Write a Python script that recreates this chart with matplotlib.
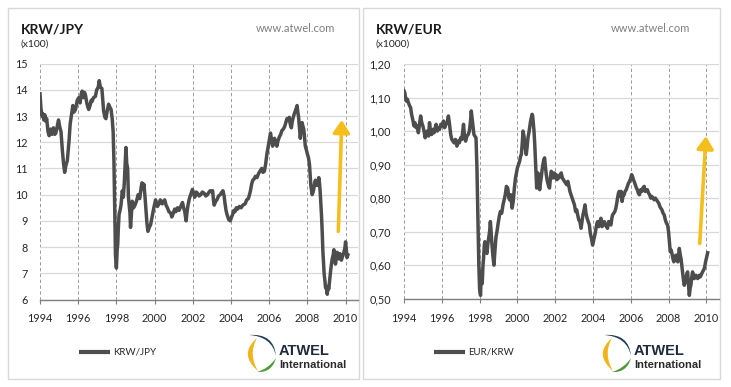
#!/usr/bin/env python3
# KRW/JPY and KRW/EUR 1994-2010, two Excel-style panels side by side.

import matplotlib.pyplot as plt
from matplotlib.patches import Rectangle, FancyArrowPatch, PathPatch
from matplotlib.path import Path

plt.rcParams["font.family"] = ["Lato", "DejaVu Sans"]

# ---- data ----
jpy_t = [1994.00, 1994.05, 1994.10, 1994.14, 1994.20, 1994.25, 1994.30, 1994.35, 1994.42, 1994.48,
         1994.55, 1994.62, 1994.70, 1994.77, 1994.83, 1994.90, 1994.97, 1995.03, 1995.10, 1995.17,
         1995.23, 1995.29, 1995.35, 1995.43, 1995.48, 1995.52, 1995.58, 1995.66, 1995.72, 1995.78,
         1995.86, 1995.95, 1996.03, 1996.10, 1996.16, 1996.21, 1996.28, 1996.33, 1996.38, 1996.45,
         1996.50, 1996.55, 1996.62, 1996.68, 1996.72, 1996.80, 1996.90, 1996.97, 1997.05, 1997.10,
         1997.16, 1997.24, 1997.29, 1997.33, 1997.40, 1997.45, 1997.52, 1997.59, 1997.65, 1997.72,
         1997.78, 1997.83, 1997.87, 1997.90, 1997.93, 1997.95, 1997.97, 1998.00, 1998.04, 1998.07,
         1998.10, 1998.14, 1998.19, 1998.24, 1998.28, 1998.31, 1998.36, 1998.41, 1998.45, 1998.50,
         1998.54, 1998.59, 1998.63, 1998.67, 1998.71, 1998.74, 1998.78, 1998.83, 1998.90, 1998.97,
         1999.05, 1999.14, 1999.22, 1999.30, 1999.34, 1999.40, 1999.44, 1999.50, 1999.55, 1999.60,
         1999.65, 1999.72, 1999.79, 1999.88, 1999.96, 2000.05, 2000.09, 2000.15, 2000.23, 2000.30,
         2000.40, 2000.47, 2000.53, 2000.60, 2000.67, 2000.75, 2000.84, 2000.90, 2000.96, 2001.05,
         2001.11, 2001.20, 2001.28, 2001.37, 2001.46, 2001.52, 2001.58, 2001.65, 2001.70, 2001.75,
         2001.82, 2001.89, 2001.98, 2002.04, 2002.10, 2002.18, 2002.25, 2002.33, 2002.42, 2002.50,
         2002.60, 2002.68, 2002.77, 2002.85, 2002.91, 2003.00, 2003.04, 2003.08, 2003.12, 2003.20,
         2003.26, 2003.35, 2003.44, 2003.52, 2003.58, 2003.64, 2003.68, 2003.74, 2003.79, 2003.88,
         2003.96, 2004.03, 2004.09, 2004.15, 2004.21, 2004.28, 2004.35, 2004.44, 2004.53, 2004.62,
         2004.74, 2004.82, 2004.91, 2004.97, 2005.02, 2005.08, 2005.14, 2005.21, 2005.28, 2005.36,
         2005.44, 2005.52, 2005.61, 2005.68, 2005.75, 2005.82, 2005.88, 2005.94, 2006.00, 2006.07,
         2006.12, 2006.18, 2006.23, 2006.28, 2006.34, 2006.40, 2006.46, 2006.53, 2006.60, 2006.67,
         2006.74, 2006.81, 2006.87, 2006.93, 2007.00, 2007.05, 2007.10, 2007.16, 2007.21, 2007.26,
         2007.32, 2007.37, 2007.42, 2007.46, 2007.50, 2007.54, 2007.59, 2007.63, 2007.68, 2007.72,
         2007.77, 2007.81, 2007.85, 2007.89, 2007.95, 2008.00, 2008.06, 2008.11, 2008.15, 2008.18,
         2008.22, 2008.25, 2008.30, 2008.33, 2008.38, 2008.42, 2008.47, 2008.51, 2008.56, 2008.60,
         2008.64, 2008.67, 2008.71, 2008.74, 2008.78, 2008.81, 2008.85, 2008.88, 2008.92, 2008.95,
         2009.00, 2009.04, 2009.08, 2009.12, 2009.16, 2009.21, 2009.25, 2009.30, 2009.35, 2009.39,
         2009.43, 2009.47, 2009.52, 2009.56, 2009.61, 2009.65, 2009.70, 2009.74, 2009.78, 2009.82,
         2009.87, 2009.91, 2009.96, 2010.00, 2010.04, 2010.07, 2010.12]
jpy_v = [13.85, 13.30, 13.00, 13.10, 12.85, 13.05, 12.80, 12.90, 12.40, 12.25,
         12.50, 12.30, 12.55, 12.30, 12.35, 12.60, 12.85, 12.60, 12.40, 11.70,
         11.20, 10.85, 11.10, 11.30, 11.70, 12.05, 12.70, 13.10, 13.40, 13.15,
         13.25, 13.60, 13.70, 13.50, 13.85, 13.95, 13.70, 13.90, 13.80, 13.50,
         13.35, 13.25, 13.40, 13.60, 13.55, 13.70, 13.75, 14.00, 14.10, 14.35,
         14.10, 14.05, 13.60, 13.20, 12.95, 12.90, 13.20, 13.45, 13.35, 13.25,
         12.90, 12.40, 11.30, 10.10, 8.70, 7.70, 7.50, 7.20, 7.90, 8.10,
         8.70, 9.25, 9.40, 9.60, 9.90, 10.15, 9.90, 10.40, 11.00, 11.80,
         11.20, 11.00, 9.90, 9.60, 9.30, 8.75, 9.20, 9.75, 9.50, 9.60,
         9.75, 10.00, 9.85, 10.30, 10.45, 10.20, 10.40, 9.90, 9.40, 8.90,
         8.60, 8.75, 8.85, 9.20, 9.50, 9.80, 9.70, 9.55, 9.65, 9.80,
         9.65, 9.75, 9.80, 9.60, 9.50, 9.35, 9.30, 9.15, 9.25, 9.45,
         9.35, 9.50, 9.40, 9.55, 9.70, 9.50, 9.35, 9.00, 9.35, 9.60,
         9.85, 10.00, 10.20, 10.05, 9.90, 10.10, 10.05, 9.95, 10.00, 10.10,
         10.05, 9.95, 10.00, 10.10, 10.15, 10.10, 10.15, 9.80, 9.60, 9.75,
         9.80, 9.95, 10.00, 10.10, 10.15, 9.95, 9.70, 9.40, 9.25, 9.05,
         9.00, 9.15, 9.25, 9.40, 9.35, 9.50, 9.45, 9.55, 9.50, 9.60,
         9.65, 9.80, 9.85, 10.00, 10.15, 10.40, 10.55, 10.60, 10.70, 10.65,
         10.80, 10.90, 11.00, 10.85, 10.90, 11.20, 11.55, 11.80, 12.05, 12.35,
         12.10, 11.85, 12.05, 12.15, 12.00, 11.85, 12.05, 12.20, 12.30, 12.45,
         12.50, 12.60, 12.75, 12.90, 12.85, 12.95, 12.70, 12.55, 12.80, 12.95,
         13.10, 13.20, 13.30, 13.40, 13.15, 12.95, 12.50, 12.15, 12.55, 12.75,
         12.60, 12.50, 12.20, 11.85, 11.70, 11.55, 11.40, 11.15, 10.70, 10.35,
         10.15, 10.00, 10.10, 10.20, 10.45, 10.55, 10.40, 10.35, 10.50, 10.65,
         10.40, 10.10, 9.60, 9.20, 8.50, 7.85, 7.30, 6.95, 6.70, 6.45,
         6.40, 6.20, 6.50, 6.40, 6.70, 7.05, 7.30, 7.55, 7.70, 7.90,
         7.60, 7.35, 7.60, 7.80, 7.65, 7.55, 7.75, 7.70, 7.50, 7.60,
         7.70, 7.80, 7.95, 8.20, 7.90, 7.60, 7.70]

eur_t = [1994.00, 1994.04, 1994.08, 1994.12, 1994.18, 1994.23, 1994.30, 1994.35, 1994.40, 1994.46,
         1994.53, 1994.58, 1994.64, 1994.70, 1994.76, 1994.82, 1994.88, 1994.94, 1995.00, 1995.06,
         1995.12, 1995.18, 1995.24, 1995.30, 1995.35, 1995.42, 1995.47, 1995.53, 1995.59, 1995.65,
         1995.70, 1995.76, 1995.82, 1995.88, 1995.95, 1996.02, 1996.09, 1996.15, 1996.22, 1996.28,
         1996.35, 1996.41, 1996.47, 1996.53, 1996.59, 1996.65, 1996.72, 1996.80, 1996.86, 1996.93,
         1997.00, 1997.06, 1997.11, 1997.15, 1997.20, 1997.26, 1997.33, 1997.40, 1997.46, 1997.52,
         1997.56, 1997.60, 1997.65, 1997.70, 1997.75, 1997.81, 1997.86, 1997.91, 1997.96, 1998.00,
         1998.05, 1998.09, 1998.14, 1998.18, 1998.21, 1998.25, 1998.28, 1998.33, 1998.39, 1998.44,
         1998.48, 1998.53, 1998.57, 1998.61, 1998.65, 1998.70, 1998.76, 1998.82, 1998.87, 1998.92,
         1998.97, 1999.04, 1999.10, 1999.17, 1999.24, 1999.30, 1999.36, 1999.42, 1999.49, 1999.55,
         1999.59, 1999.65, 1999.72, 1999.78, 1999.84, 1999.90, 1999.95, 2000.00, 2000.06, 2000.12,
         2000.17, 2000.21, 2000.26, 2000.30, 2000.35, 2000.39, 2000.43, 2000.47, 2000.52, 2000.56,
         2000.61, 2000.65, 2000.70, 2000.74, 2000.78, 2000.81, 2000.85, 2000.88, 2000.92, 2000.95,
         2000.99, 2001.02, 2001.06, 2001.09, 2001.13, 2001.18, 2001.22, 2001.26, 2001.31, 2001.35,
         2001.40, 2001.44, 2001.48, 2001.53, 2001.57, 2001.61, 2001.66, 2001.70, 2001.75, 2001.79,
         2001.84, 2001.88, 2001.92, 2001.96, 2002.01, 2002.05, 2002.10, 2002.14, 2002.20, 2002.26,
         2002.32, 2002.38, 2002.44, 2002.49, 2002.55, 2002.61, 2002.67, 2002.73, 2002.78, 2002.84,
         2002.90, 2002.96, 2003.02, 2003.08, 2003.14, 2003.19, 2003.25, 2003.31, 2003.37, 2003.42,
         2003.47, 2003.53, 2003.58, 2003.63, 2003.69, 2003.75, 2003.81, 2003.86, 2003.92, 2003.98,
         2004.04, 2004.10, 2004.16, 2004.21, 2004.25, 2004.31, 2004.36, 2004.42, 2004.48, 2004.54,
         2004.60, 2004.66, 2004.72, 2004.77, 2004.83, 2004.89, 2004.95, 2005.00, 2005.04, 2005.10,
         2005.16, 2005.21, 2005.26, 2005.30, 2005.35, 2005.39, 2005.44, 2005.49, 2005.54, 2005.60,
         2005.65, 2005.70, 2005.76, 2005.82, 2005.88, 2005.94, 2006.00, 2006.05, 2006.09, 2006.14,
         2006.18, 2006.24, 2006.30, 2006.35, 2006.40, 2006.46, 2006.53, 2006.58, 2006.64, 2006.71,
         2006.76, 2006.82, 2006.88, 2006.94, 2007.00, 2007.06, 2007.12, 2007.18, 2007.24, 2007.30,
         2007.36, 2007.42, 2007.48, 2007.54, 2007.59, 2007.65, 2007.71, 2007.77, 2007.83, 2007.89,
         2007.95, 2008.00, 2008.03, 2008.06, 2008.09, 2008.14, 2008.18, 2008.23, 2008.28, 2008.34,
         2008.39, 2008.44, 2008.49, 2008.54, 2008.57, 2008.62, 2008.66, 2008.70, 2008.74, 2008.78,
         2008.83, 2008.88, 2008.92, 2008.97, 2009.01, 2009.05, 2009.10, 2009.14, 2009.18, 2009.23,
         2009.27, 2009.32, 2009.36, 2009.41, 2009.45, 2009.50, 2009.54, 2009.59, 2009.63, 2009.68,
         2009.72, 2009.76, 2009.80, 2009.85, 2009.89, 2009.93, 2009.96, 2010.00, 2010.04, 2010.07]
eur_v = [1.120, 1.115, 1.100, 1.090, 1.095, 1.085, 1.075, 1.070, 1.050, 1.035,
         1.015, 1.025, 1.010, 1.015, 0.995, 1.020, 1.045, 1.025, 1.015, 1.000,
         0.980, 0.995, 1.000, 0.985, 1.025, 0.990, 0.990, 1.005, 0.995, 1.010,
         1.020, 1.000, 1.010, 1.005, 1.020, 1.015, 1.030, 1.010, 1.020, 1.025,
         1.045, 1.020, 0.990, 0.975, 0.970, 0.965, 0.975, 0.955, 0.970, 0.965,
         0.980, 0.975, 1.000, 1.020, 0.985, 0.970, 0.985, 0.990, 1.000, 1.030,
         1.060, 1.040, 1.015, 0.990, 0.985, 0.980, 0.890, 0.740, 0.600, 0.530,
         0.510, 0.580, 0.545, 0.600, 0.620, 0.660, 0.670, 0.645, 0.635, 0.665,
         0.680, 0.700, 0.730, 0.700, 0.665, 0.630, 0.600, 0.650, 0.685, 0.700,
         0.720, 0.745, 0.760, 0.755, 0.780, 0.795, 0.810, 0.835, 0.830, 0.800,
         0.795, 0.810, 0.770, 0.790, 0.830, 0.860, 0.875, 0.890, 0.900, 0.910,
         0.925, 0.930, 0.965, 1.000, 0.985, 0.960, 0.945, 0.930, 0.955, 0.980,
         0.995, 1.010, 1.030, 1.040, 1.050, 1.045, 1.020, 1.000, 0.960, 0.920,
         0.870, 0.830, 0.860, 0.875, 0.850, 0.825, 0.845, 0.860, 0.885, 0.900,
         0.915, 0.920, 0.895, 0.870, 0.855, 0.845, 0.835, 0.830, 0.860, 0.880,
         0.875, 0.860, 0.865, 0.875, 0.860, 0.870, 0.855, 0.865, 0.860, 0.870,
         0.875, 0.860, 0.855, 0.850, 0.845, 0.840, 0.850, 0.835, 0.820, 0.810,
         0.800, 0.790, 0.780, 0.760, 0.765, 0.750, 0.735, 0.730, 0.710, 0.730,
         0.750, 0.765, 0.780, 0.755, 0.740, 0.730, 0.720, 0.695, 0.680, 0.660,
         0.675, 0.690, 0.710, 0.725, 0.730, 0.715, 0.725, 0.740, 0.715, 0.720,
         0.730, 0.720, 0.715, 0.710, 0.730, 0.725, 0.720, 0.740, 0.750, 0.755,
         0.760, 0.770, 0.785, 0.800, 0.815, 0.820, 0.805, 0.820, 0.790, 0.810,
         0.810, 0.820, 0.825, 0.835, 0.845, 0.850, 0.860, 0.870, 0.865, 0.855,
         0.850, 0.840, 0.830, 0.825, 0.815, 0.810, 0.825, 0.820, 0.830, 0.835,
         0.820, 0.825, 0.825, 0.815, 0.810, 0.800, 0.805, 0.800, 0.795, 0.800,
         0.795, 0.790, 0.785, 0.775, 0.770, 0.765, 0.755, 0.750, 0.735, 0.725,
         0.720, 0.700, 0.680, 0.660, 0.640, 0.645, 0.635, 0.620, 0.610, 0.625,
         0.630, 0.615, 0.610, 0.635, 0.650, 0.630, 0.620, 0.600, 0.580, 0.560,
         0.540, 0.550, 0.560, 0.575, 0.580, 0.545, 0.510, 0.530, 0.540, 0.565,
         0.580, 0.570, 0.560, 0.565, 0.570, 0.565, 0.560, 0.565, 0.570, 0.565,
         0.570, 0.575, 0.580, 0.585, 0.590, 0.600, 0.610, 0.620, 0.630, 0.637]

years = [1994, 1996, 1998, 2000, 2002, 2004, 2006, 2008, 2010]
jpy_yticks = [6, 7, 8, 9, 10, 11, 12, 13, 14, 15]
eur_yticks = [0.5, 0.6, 0.7, 0.8, 0.9, 1.0, 1.1, 1.2]
eur_ylabels = ["0,50", "0,60", "0,70", "0,80", "0,90", "1,00", "1,10", "1,20"]

# arrows: (tail year, tail value, tip year, tip value)
jpy_arrow = (2009.62, 8.6, 2009.80, 12.85)
eur_arrow = (2009.65, 0.665, 2009.98, 0.985)

# ---- layout (pixels) ----
W, H = 731, 387
LINE = "#4d4d4d"
GOLD = "#F4BF1C"
TXT = "#262626"

fig = plt.figure(figsize=(W / 100, H / 100), dpi=100)
fig.patch.set_facecolor("white")

bg = fig.add_axes([0, 0, 1, 1])
bg.set_xlim(0, W)
bg.set_ylim(H, 0)
bg.axis("off")


def px_axes(x0, y0, x1, y1):
    return fig.add_axes([x0 / W, 1 - y1 / H, (x1 - x0) / W, (y1 - y0) / H])


def logo(x0, y0):
    C3 = Path.CURVE3
    shapes = [
        ([(12, 3), (-7, 19), (13, 36), (3, 19), (12, 3)], "#F0B41C"),
        ([(4, 0), (29, -2), (31, 21), (27, 1.5), (4, 0)], "#23405E"),
        ([(12, 37), (27, 38), (31, 23), (24, 33.5), (12, 37)], "#4E9A3A"),
    ]
    for pts, col in shapes:
        verts = [(x0 + a, y0 + b) for a, b in pts]
        path = Path(verts, [Path.MOVETO, C3, C3, C3, C3])
        bg.add_patch(PathPatch(path, facecolor=col, edgecolor="none"))


def panel(px0, px1, ax_box, t, v, title, unit, legend, arrow, xhi, ylim, yticks, ylabels, ypad):
    bg.add_patch(Rectangle((px0, 8), px1 - px0, 371, fill=False, edgecolor="#d9d9d9", lw=1))
    bg.text(px0 + 12.5, 33, title, fontsize=10, fontweight="bold", color="#1a1a1a", va="baseline")
    bg.text(px0 + 12.5, 47, unit, fontsize=7.5, color=TXT, va="baseline")
    bg.text(px0 + 327, 32, "www.atwel.com", fontsize=8, color="#7f7f7f", ha="right", va="baseline")

    # legend
    lx = px0 + 71
    bg.plot([lx, lx + 31], [351.5, 351.5], color=LINE, lw=3, solid_capstyle="butt")
    bg.text(lx + 34, 352, legend, fontsize=7, color=TXT, va="center")

    # logo block
    logo(px0 + 237, 335)
    bg.text(px0 + 271, 355, "ATWEL", fontsize=10.5, fontweight="bold", color="#1E2B3C",
            family="Liberation Sans", va="baseline")
    bg.text(px0 + 271, 367.5, "International", fontsize=8, fontweight="bold", color="#2b2b2b",
            family="Liberation Sans", va="baseline")

    ax = px_axes(*ax_box)
    ax.patch.set_visible(False)
    ax.plot(t, v, color=LINE, lw=2.5, solid_joinstyle="round", zorder=3)
    ax.set_xlim(1994, xhi)
    ax.set_ylim(*ylim)
    ax.set_xticks(years)
    ax.set_xticklabels([str(y) for y in years])
    ax.set_yticks(yticks)
    ax.set_yticklabels(ylabels)
    ax.set_axisbelow(True)
    ax.grid(axis="y", color="#d9d9d9", lw=0.9)
    ax.grid(axis="x", color="#8c8c8c", lw=0.6, linestyle=(0, (4, 3)))
    for s in ["top", "right", "left"]:
        ax.spines[s].set_visible(False)
    ax.spines["bottom"].set_color("#7f7f7f")
    ax.spines["bottom"].set_linewidth(1)
    ax.tick_params(axis="x", length=3, color="#7f7f7f", pad=7, labelsize=7.8, labelcolor=TXT)
    ax.tick_params(axis="y", length=0, pad=ypad, labelsize=7.8, labelcolor=TXT)

    ta, va_, tb, vb = arrow
    ax.add_patch(FancyArrowPatch((ta, va_), (tb, vb),
                                 arrowstyle="-|>,head_length=0.75,head_width=0.5",
                                 mutation_scale=10, color=GOLD, lw=2.6,
                                 shrinkA=0, shrinkB=0, zorder=4))
    return ax


panel(8, 359, (40, 63.6, 358, 299.5), jpy_t, jpy_v, "KRW/JPY", "(x100)", "KRW/JPY",
      jpy_arrow, 2010.65, (6, 15), jpy_yticks, [str(y) for y in jpy_yticks], 9)
panel(363, 720, (404, 64, 719, 298.7), eur_t, eur_v, "KRW/EUR", "(x1000)", "EUR/KRW",
      eur_arrow, 2010.67, (0.5, 1.2), eur_yticks, eur_ylabels, 9.5)

fig.savefig("out.png", dpi=100)
print("Saved: out.png")
